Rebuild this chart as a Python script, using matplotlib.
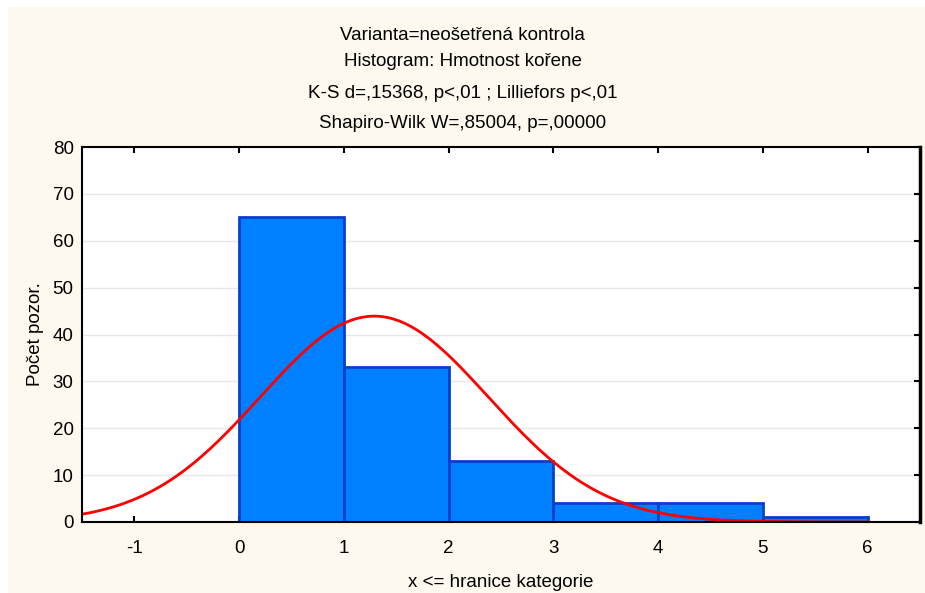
import numpy as np
import matplotlib.pyplot as plt
from matplotlib.patches import Rectangle

# histogram classes (upper bounds) and counts
bin_left = [0, 1, 2, 3, 4, 5]
counts = [65, 33, 13, 4, 4, 1]
bin_width = 1.0
# fitted normal curve parameters
fit_mean = 1.29
fit_sd = 1.09
n_obs = sum(counts)

title_lines = ["Varianta=neošetřená kontrola",
               "Histogram: Hmotnost kořene",
               "K-S d=,15368, p<,01 ; Lilliefors p<,01",
               "Shapiro-Wilk W=,85004, p=,00000"]

plt.rcParams['font.family'] = ['Liberation Sans', 'DejaVu Sans']
plt.rcParams['axes.unicode_minus'] = False

fig = plt.figure(figsize=(9.25, 5.93), dpi=100, facecolor='white')
# cream panel behind the chart
fig.patches.append(Rectangle((8 / 925, 0), 1, 1 - 7 / 593, transform=fig.transFigure,
                             facecolor='#fdf9ee', edgecolor='none', zorder=-1))

ax = fig.add_axes([82 / 925, 1 - 522 / 593, (920 - 82) / 925, (522 - 147) / 593])
ax.set_facecolor('white')

ax.bar(bin_left, counts, width=bin_width, align='edge', color='#0080ff',
       edgecolor='#0a40c8', linewidth=2, zorder=2)

xs = np.linspace(-1.5, 6.0, 400)
ys = n_obs * bin_width / (fit_sd * np.sqrt(2 * np.pi)) * np.exp(-0.5 * ((xs - fit_mean) / fit_sd) ** 2)
ax.plot(xs, ys, color='#ff0000', linewidth=2, zorder=3)

ax.set_xlim(-1.5, 6.5)
ax.set_ylim(0, 80)
ax.set_xticks([-1, 0, 1, 2, 3, 4, 5, 6])
ax.set_yticks([0, 10, 20, 30, 40, 50, 60, 70, 80])
for y in [10, 20, 30, 40, 50, 60, 70]:
    ax.axhline(y, color='#e8e8e8', linewidth=1, zorder=0)

ax.tick_params(axis='x', direction='in', length=4, width=1.5, top=True, labelsize=13.5, pad=13)
ax.tick_params(axis='y', direction='in', length=4, width=1.5, left=False, right=True, labelsize=13.5, pad=6)
for s in ax.spines.values():
    s.set_linewidth(1.5)
    s.set_zorder(5)
ax.spines['right'].set_linewidth(2.5)

ax.set_xlabel("x <= hranice kategorie", fontsize=13.5, labelpad=12)
ax.set_ylabel("Počet pozor.", fontsize=13.5, labelpad=6)

for i, line in enumerate(title_lines):
    fig.text(0.5, 1 - [35, 62, 93, 124][i] / 593, line, ha='center', va='center', fontsize=13.5)

fig.savefig("out.png", dpi=100)
